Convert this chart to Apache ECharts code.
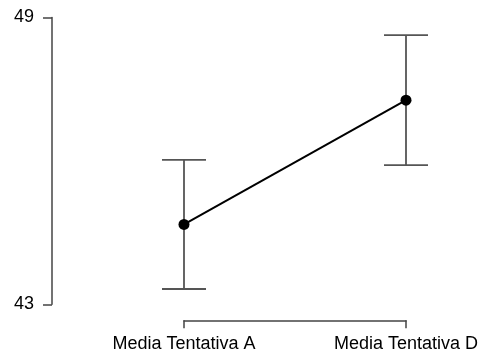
<!DOCTYPE html>
<html>
<head>
<meta charset="utf-8">
<script src="https://cdn.jsdelivr.net/npm/echarts@6/dist/echarts.min.js"></script>
<style>html,body{margin:0;padding:0;background:#fff}#c{width:482px;height:360px}</style>
</head>
<body>
<div id="c"></div>
<script>
const categories = ['Media Tentativa A', 'Media Tentativa D'];
const means = [44.67, 47.27];
const lower = [43.32, 45.91];
const upper = [46.02, 48.63];
const yTicks = [43, 49];

const chart = echarts.init(document.getElementById('c'), null, {renderer: 'canvas'});
const errData = categories.map((c, i) => [i, lower[i], upper[i]]);
const font = '"Liberation Sans", Arial, sans-serif';

chart.setOption({
  animation: false,
  backgroundColor: '#ffffff',
  grid: {left: 184, right: 76, top: 17.5, bottom: 55.7},
  xAxis: {
    type: 'category',
    data: categories,
    boundaryGap: false,
    offset: 16,
    axisLine: {show: true, lineStyle: {color: '#444', width: 1.5}},
    axisTick: {show: true, length: 8, inside: false, lineStyle: {color: '#444', width: 1.5}},
    axisLabel: {color: '#000', fontSize: 18, fontFamily: font, margin: 15, interval: 0},
    splitLine: {show: false}
  },
  yAxis: {
    type: 'value',
    min: yTicks[0],
    max: yTicks[1],
    interval: yTicks[1] - yTicks[0],
    offset: 132,
    axisLine: {show: true, lineStyle: {color: '#444', width: 1.5}},
    axisTick: {show: true, length: 9, inside: false, lineStyle: {color: '#444', width: 1.5}},
    axisLabel: {color: '#000', fontSize: 18, fontFamily: font, margin: 18},
    splitLine: {show: false}
  },
  series: [
    {
      type: 'custom',
      clip: false,
      z: 1,
      data: errData,
      encode: {x: 0, y: [1, 2]},
      renderItem: function (params, api) {
        const x = api.value(0);
        const lo = api.coord([x, api.value(1)]);
        const hi = api.coord([x, api.value(2)]);
        const hw = 22;
        const style = {stroke: '#555', lineWidth: 1.8};
        return {
          type: 'group',
          children: [
            {type: 'line', shape: {x1: lo[0], y1: lo[1], x2: hi[0], y2: hi[1]}, style: style},
            {type: 'line', shape: {x1: lo[0] - hw, y1: lo[1], x2: lo[0] + hw, y2: lo[1]}, style: style},
            {type: 'line', shape: {x1: hi[0] - hw, y1: hi[1], x2: hi[0] + hw, y2: hi[1]}, style: style}
          ]
        };
      }
    },
    {
      type: 'line',
      z: 3,
      clip: false,
      data: means,
      symbol: 'circle',
      symbolSize: 11,
      lineStyle: {color: '#000', width: 2},
      itemStyle: {color: '#000'}
    }
  ]
});
</script>
</body>
</html>
